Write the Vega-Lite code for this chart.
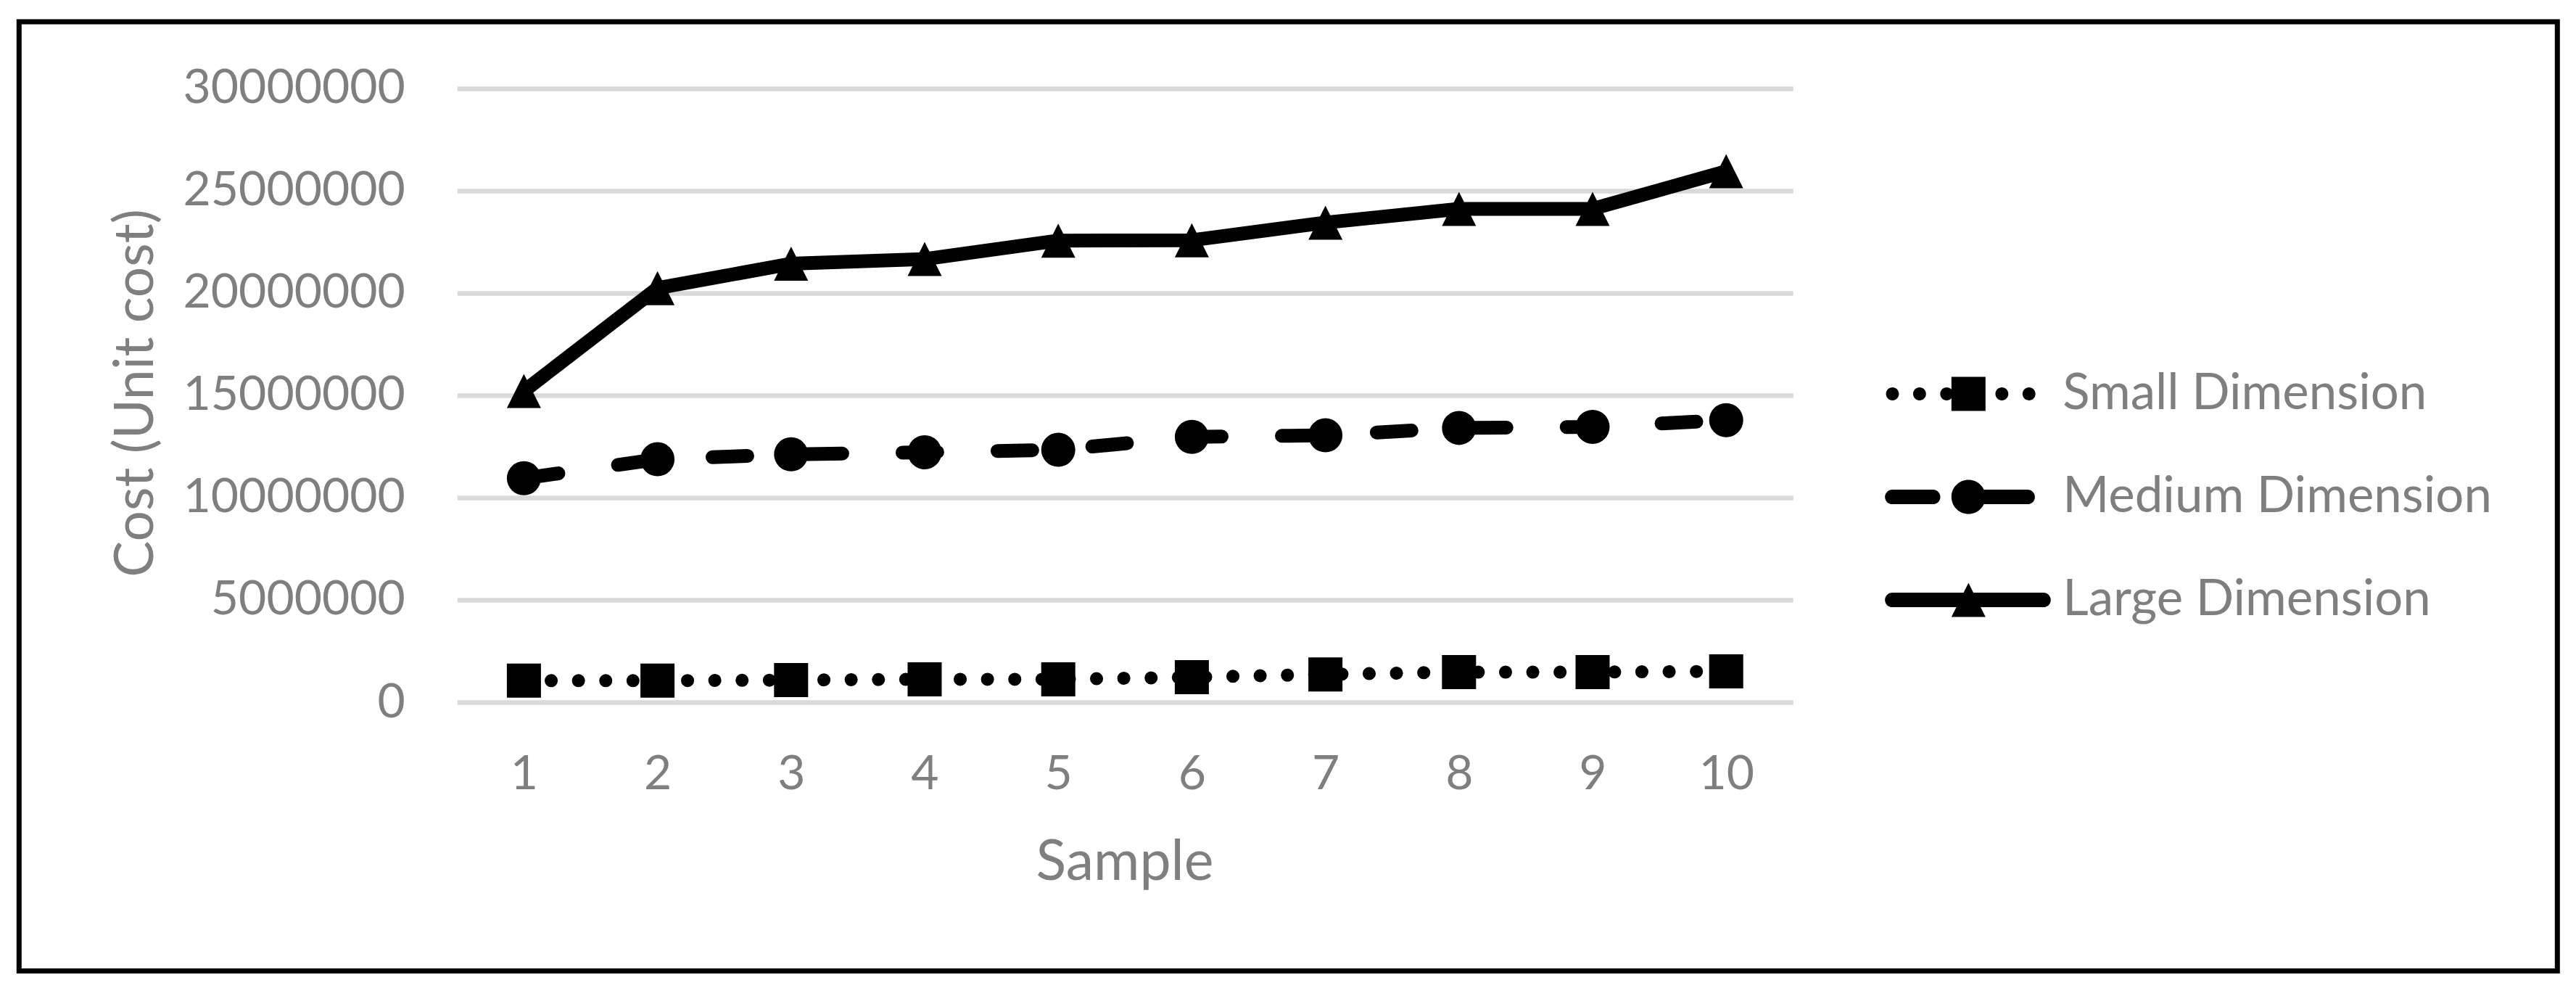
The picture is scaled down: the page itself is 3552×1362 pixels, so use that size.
{
  "$schema": "https://vega.github.io/schema/vega-lite/v6.json",
  "autosize": {"type": "none"},
  "width": 3500,
  "height": 1308.5,
  "padding": {"left": 26.3, "top": 30, "right": 25.7, "bottom": 23.5},
  "background": "white",
  "config": {
    "view": {"stroke": "black", "strokeWidth": 7},
    "font": "Lato"
  },
  "data": {
    "values": [
      {"sample": 1, "series": "Small Dimension", "cost": 1050000},
      {"sample": 2, "series": "Small Dimension", "cost": 1050000},
      {"sample": 3, "series": "Small Dimension", "cost": 1080000},
      {"sample": 4, "series": "Small Dimension", "cost": 1120000},
      {"sample": 5, "series": "Small Dimension", "cost": 1120000},
      {"sample": 6, "series": "Small Dimension", "cost": 1220000},
      {"sample": 7, "series": "Small Dimension", "cost": 1360000},
      {"sample": 8, "series": "Small Dimension", "cost": 1470000},
      {"sample": 9, "series": "Small Dimension", "cost": 1470000},
      {"sample": 10, "series": "Small Dimension", "cost": 1510000},
      {"sample": 1, "series": "Medium Dimension", "cost": 10940000},
      {"sample": 2, "series": "Medium Dimension", "cost": 11870000},
      {"sample": 3, "series": "Medium Dimension", "cost": 12110000},
      {"sample": 4, "series": "Medium Dimension", "cost": 12210000},
      {"sample": 5, "series": "Medium Dimension", "cost": 12330000},
      {"sample": 6, "series": "Medium Dimension", "cost": 12960000},
      {"sample": 7, "series": "Medium Dimension", "cost": 13040000},
      {"sample": 8, "series": "Medium Dimension", "cost": 13400000},
      {"sample": 9, "series": "Medium Dimension", "cost": 13450000},
      {"sample": 10, "series": "Medium Dimension", "cost": 13780000},
      {"sample": 1, "series": "Large Dimension", "cost": 15200000},
      {"sample": 2, "series": "Large Dimension", "cost": 20230000},
      {"sample": 3, "series": "Large Dimension", "cost": 21420000},
      {"sample": 4, "series": "Large Dimension", "cost": 21650000},
      {"sample": 5, "series": "Large Dimension", "cost": 22550000},
      {"sample": 6, "series": "Large Dimension", "cost": 22570000},
      {"sample": 7, "series": "Large Dimension", "cost": 23430000},
      {"sample": 8, "series": "Large Dimension", "cost": 24100000},
      {"sample": 9, "series": "Large Dimension", "cost": 24100000},
      {"sample": 10, "series": "Large Dimension", "cost": 25940000}
    ]
  },
  "encoding": {
    "x": {
      "field": "sample",
      "type": "ordinal",
      "scale": {"type": "point", "range": [604, 2446], "padding": 0.5},
      "axis": {
        "title": "Sample",
        "labelAngle": 0,
        "domain": false,
        "ticks": false,
        "tickSize": 0,
        "grid": false,
        "labelPadding": 0,
        "offset": -251.5,
        "labelFont": "Lato",
        "labelFontSize": 66,
        "labelColor": "#7f7f7f",
        "labelBaseline": "alphabetic",
        "labelLimit": 1000,
        "titleFont": "Lato",
        "titleFontSize": 77,
        "titleFontWeight": "normal",
        "titleColor": "#7f7f7f",
        "titleX": 1524.2,
        "titleY": 125.7,
        "titleAlign": "center",
        "titleBaseline": "alphabetic",
        "titleLimit": 2000
      }
    },
    "y": {
      "field": "cost",
      "type": "quantitative",
      "scale": {"domain": [0, 30000000], "range": [938, 91.5], "nice": false},
      "axis": {
        "title": "Cost (Unit cost)",
        "values": [0, 5000000, 10000000, 15000000, 20000000, 25000000, 30000000],
        "format": "d",
        "domain": false,
        "ticks": false,
        "tickSize": 0,
        "labelPadding": 0,
        "offset": -532,
        "grid": true,
        "gridColor": "#d9d9d9",
        "gridWidth": 6.5,
        "labelFont": "Lato",
        "labelFontSize": 66,
        "labelColor": "#7f7f7f",
        "labelOverlap": false,
        "labelLimit": 1000,
        "titleFont": "Lato",
        "titleFontSize": 75,
        "titleFontWeight": "normal",
        "titleColor": "#7f7f7f",
        "titleAngle": 270,
        "titleX": -348,
        "titleY": 511.5,
        "titleAlign": "center",
        "titleBaseline": "alphabetic",
        "titleLimit": 2000
      }
    }
  },
  "layer": [
    {
      "transform": [{"filter": "datum.series === 'Small Dimension'"}],
      "mark": {"type": "line", "color": "black", "strokeWidth": 18, "strokeDash": [0.1, 37.5], "strokeCap": "round"}
    },
    {
      "transform": [{"filter": "datum.series === 'Medium Dimension'"}],
      "mark": {"type": "line", "color": "black", "strokeWidth": 19, "strokeDash": [48, 83], "strokeCap": "round"}
    },
    {
      "transform": [{"filter": "datum.series === 'Large Dimension'"}],
      "mark": {"type": "line", "color": "black", "strokeWidth": 19, "strokeJoin": "round", "strokeCap": "round"}
    },
    {
      "mark": {"type": "point", "filled": true, "color": "black", "opacity": 1, "size": 2209, "strokeWidth": 0},
      "encoding": {
        "shape": {
          "field": "series",
          "type": "nominal",
          "scale": {
            "domain": ["Small Dimension", "Medium Dimension", "Large Dimension"],
            "range": ["square", "circle", "M0,-1L1,1L-1,1Z"]
          },
          "legend": null
        }
      }
    },
    {
      "transform": [{"filter": "false"}],
      "mark": {"type": "point", "filled": true, "color": "black", "opacity": 1, "strokeWidth": 0},
      "encoding": {
        "shape": {
          "field": "series",
          "type": "nominal",
          "scale": {
            "domain": ["Small Dimension", "Medium Dimension", "Large Dimension"],
            "range": [
              "M-1,-1H1V1H-1Z M-4.84,0A0.38,0.38 0 0 1 -4.08,0A0.38,0.38 0 0 1 -4.84,0Z M-3.25,0A0.38,0.38 0 0 1 -2.49,0A0.38,0.38 0 0 1 -3.25,0Z M-1.66,0A0.38,0.38 0 0 1 -0.9,0A0.38,0.38 0 0 1 -1.66,0Z M1.58,0A0.38,0.38 0 0 1 2.34,0A0.38,0.38 0 0 1 1.58,0Z M3.17,0A0.38,0.38 0 0 1 3.93,0A0.38,0.38 0 0 1 3.17,0Z",
              "M-4.47,-0.43H-2.08A0.43,0.43 0 0 1 -2.08,0.43H-4.47A0.43,0.43 0 0 1 -4.47,-0.43Z M0,-0.43H3.47A0.43,0.43 0 0 1 3.47,0.43H0Z M-1,0A1,1 0 0 1 1,0A1,1 0 0 1 -1,0Z",
              "M-4.47,-0.43H4.4A0.43,0.43 0 0 1 4.4,0.43H-4.47A0.43,0.43 0 0 1 -4.47,-0.43Z M0,-1L1,1L-1,1Z"
            ]
          },
          "legend": {
            "title": null,
            "orient": "none",
            "legendX": 2653.5,
            "legendY": 478.5,
            "padding": 0,
            "labelFont": "Lato",
            "labelFontSize": 69,
            "labelColor": "#7f7f7f",
            "labelOffset": 95.5,
            "labelLimit": 1000,
            "symbolOffset": 0,
            "rowPadding": 72,
            "symbolSize": 2209,
            "symbolFillColor": "black",
            "symbolStrokeColor": "black",
            "symbolStrokeWidth": 0,
            "symbolOpacity": 1
          }
        }
      }
    }
  ],
  "resolve": {"scale": {"shape": "independent"}}
}
